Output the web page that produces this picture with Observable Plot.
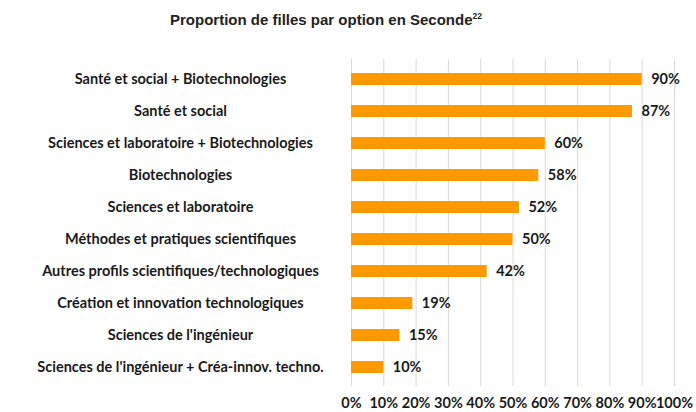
<!DOCTYPE html>
<html>
<head>
<meta charset="utf-8">
<script src="https://cdn.jsdelivr.net/npm/d3@7"></script>
<script src="https://cdn.jsdelivr.net/npm/@observablehq/plot@0.6"></script>
<style>
  body { margin: 0; background: #fff; }
  #title { height: 40px; width: 696px; box-sizing: border-box; padding-top: 11px; padding-right: 44px;
    text-align: center; font-family: "Liberation Sans", Arial, sans-serif; font-weight: bold; font-size: 15px; color: #222; }
  #title sup { font-size: 8.5px; vertical-align: 6px; }
</style>
</head>
<body>
<div id="title">Proportion de filles par option en Seconde<sup>22</sup></div>
<div id="chart"></div>
<script>
const categories = [
  "Santé et social + Biotechnologies",
  "Santé et social",
  "Sciences et laboratoire + Biotechnologies",
  "Biotechnologies",
  "Sciences et laboratoire",
  "Méthodes et pratiques scientifiques",
  "Autres profils scientifiques/technologiques",
  "Création et innovation technologiques",
  "Sciences de l'ingénieur",
  "Sciences de l'ingénieur + Créa-innov. techno."
];
const values = [0.90, 0.87, 0.60, 0.58, 0.52, 0.50, 0.42, 0.19, 0.15, 0.10];
const xTicks = [0, 0.1, 0.2, 0.3, 0.4, 0.5, 0.6, 0.7, 0.8, 0.9, 1.0];

const data = categories.map((c, i) => ({category: c, value: values[i]}));
const pct = d3.format(".0%");

const chart = Plot.plot({
  width: 696,
  height: 372,
  marginLeft: 351,
  marginRight: 22,
  marginTop: 19,
  marginBottom: 26,
  style: {fontFamily: "Lato, sans-serif", fontSize: "14.5px", color: "#1a1a1a", fontWeight: "bold"},
  x: {domain: [0, 1]},
  y: {domain: categories, paddingInner: 0.64, paddingOuter: 0.32},
  marks: [
    Plot.gridX(xTicks, {stroke: "#d9d9d9", strokeOpacity: 1}),
    Plot.barX(data, {x: "value", y: "category", fill: "#ff9900"}),
    Plot.text(data, {x: "value", y: "category", text: d => pct(d.value), dx: 9, textAnchor: "start", fill: "#1a1a1a", fontSize: 14.5}),
    Plot.axisX({ticks: xTicks, tickFormat: pct, tickSize: 0, tickPadding: 11, label: null, fontSize: 14.5}),
    Plot.axisY({tickSize: 0, tickPadding: 0, textAnchor: "middle", dx: -171, label: null, fontSize: 14.5})
  ]
});
document.getElementById("chart").appendChild(chart);
</script>
</body>
</html>
